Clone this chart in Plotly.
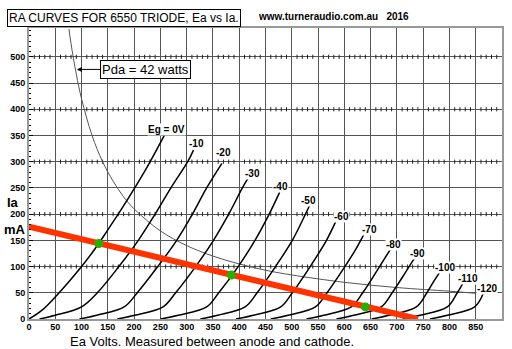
import plotly.graph_objects as go

# ---------------- data ----------------
# Triode anode curves (Ea volts, Ia mA) for each grid voltage
ea_g0 = [0, 25, 50, 75, 100, 125, 150, 175, 200, 225, 258]
ia_g0 = [0, 17, 42, 70, 100, 133, 170, 208, 248, 290, 351]
ea_g10 = [20, 50, 100, 130, 171, 208, 240, 270, 302, 313]
ia_g10 = [0, 7, 23, 50, 100, 150, 200, 250, 300, 322]
ea_g20 = [96, 129, 181, 206, 245, 281, 311, 338, 367]
ia_g20 = [0, 7, 23, 50, 100, 150, 200, 250, 297]
ea_g30 = [168, 201, 255, 279, 317, 351, 380, 406, 417]
ia_g30 = [0, 7, 23, 50, 100, 150, 200, 250, 269]
ea_g40 = [250, 284, 338, 361, 398, 430, 457, 477]
ia_g40 = [0, 7, 23, 50, 100, 150, 200, 242]
ea_g50 = [326, 359, 411, 434, 469, 501, 526, 534]
ia_g50 = [0, 7, 23, 50, 100, 150, 200, 217]
ea_g60 = [394, 427, 479, 501, 535, 566, 585]
ia_g60 = [0, 7, 23, 50, 100, 150, 189]
ea_g70 = [460, 493, 545, 567, 601, 620, 637]
ia_g70 = [0, 7, 23, 50, 100, 130, 161]
ea_g80 = [528, 561, 613, 635, 667, 687]
ia_g80 = [0, 7, 23, 50, 100, 132]
ea_g90 = [585, 618, 670, 691, 717, 734]
ia_g90 = [0, 7, 23, 50, 90, 117]
ea_g100 = [652, 685, 737, 757, 769, 782]
ia_g100 = [0, 7, 23, 50, 70, 90]
ea_g110 = [711, 744, 796, 815, 826]
ia_g110 = [0, 7, 23, 50, 69]
ea_g120 = [763, 796, 848, 864]
ia_g120 = [0, 7, 23, 48]

curve_labels = ["Eg = 0V", "-10", "-20", "-30", "-40", "-50", "-60",
                "-70", "-80", "-90", "-100", "-110", "-120"]
label_ea = [261, 318, 371, 425, 479, 532, 594, 648, 694, 739, 791, 836, 872]
label_ia = [362, 335, 317, 278, 252, 226, 196, 171, 143, 124, 98, 78, 59]

# Anode dissipation curve Pda = 42 W
pda_ea = [76, 80, 90, 100, 120, 140, 160, 180, 200, 250, 300, 350, 400,
          450, 500, 600, 700, 800, 850]
pda_ia = [553, 525, 467, 420, 350, 300, 263, 233, 210, 168, 140, 120, 105,
          93, 84, 70, 60, 53, 49]

# Load line and operating points
load_ea = [0, 740]
load_ia = [176, 0]
op_ea = [133, 385, 640]
op_ia = [144, 84, 23]

x_ticks = list(range(0, 851, 50))
y_ticks = list(range(0, 501, 50))

curves = [(ea_g0, ia_g0), (ea_g10, ia_g10), (ea_g20, ia_g20), (ea_g30, ia_g30),
          (ea_g40, ia_g40), (ea_g50, ia_g50), (ea_g60, ia_g60), (ea_g70, ia_g70),
          (ea_g80, ia_g80), (ea_g90, ia_g90), (ea_g100, ia_g100),
          (ea_g110, ia_g110), (ea_g120, ia_g120)]

FONT = "Liberation Sans, Arial, sans-serif"

fig = go.Figure()

# minor tick dots along the 100 mA grid lines (every 10 V)
dot_x, dot_y = [], []
for yy in range(100, 501, 100):
    for xx in range(10, 900, 10):
        if xx % 50:
            dot_x.append(xx)
            dot_y.append(yy)
fig.add_trace(go.Scatter(
    x=dot_x, y=dot_y, mode="markers", hoverinfo="skip", showlegend=False,
    marker=dict(symbol="line-ns", size=3, color="black",
                line=dict(width=1, color="#222"))))

# Pda curve
fig.add_trace(go.Scatter(
    x=pda_ea, y=pda_ia, mode="lines", hoverinfo="skip", showlegend=False,
    line=dict(color="#555", width=1, shape="spline")))

# anode curves
for ea, ia in curves:
    fig.add_trace(go.Scatter(
        x=ea, y=ia, mode="lines", hoverinfo="skip", showlegend=False,
        line=dict(color="black", width=1.5, shape="spline", smoothing=1)))

# load line
fig.add_trace(go.Scatter(
    x=load_ea, y=load_ia, mode="lines", hoverinfo="skip", showlegend=False,
    line=dict(color="#ff3300", width=6)))

# operating points
fig.add_trace(go.Scatter(
    x=op_ea, y=op_ia, mode="markers", hoverinfo="skip", showlegend=False,
    marker=dict(color="#2faa00", size=9, line=dict(width=0))))

annotations = []
for txt, xx, yy in zip(curve_labels, label_ea, label_ia):
    annotations.append(dict(
        x=xx, y=yy, xref="x", yref="y", text=txt, showarrow=False,
        font=dict(family=FONT, size=10, color="black", weight="bold"),
        xanchor="center", yanchor="middle", bgcolor="white", borderpad=0))

# Pda label with arrow
annotations.append(dict(
    x=91, y=476, xref="x", yref="y", text="Pda = 42 watts",
    showarrow=True, arrowhead=2, arrowsize=1, arrowwidth=1, arrowcolor="black",
    ax=69, ay=0, axref="pixel", ayref="pixel",
    font=dict(family=FONT, size=13, color="black"),
    bgcolor="white", bordercolor="black", borderwidth=1, borderpad=1))

# title box
annotations.append(dict(
    x=-0.0463, y=1.036, xref="paper", yref="paper",
    text="RA CURVES FOR 6550 TRIODE, Ea vs Ia.", showarrow=False,
    font=dict(family=FONT, size=12, color="black"),
    bgcolor="white", bordercolor="black", borderwidth=1, borderpad=1,
    xanchor="left", yanchor="middle"))

# website
annotations.append(dict(
    x=0.48, y=1.038, xref="paper", yref="paper",
    text="www.turneraudio.com.au&nbsp;&nbsp;&nbsp;2016", showarrow=False,
    font=dict(family=FONT, size=10, color="black", weight="bold"),
    xanchor="left", yanchor="middle"))

# axis titles
annotations.append(dict(
    x=0.386, y=-0.076, xref="paper", yref="paper",
    text="Ea Volts. Measured between anode and cathode.", showarrow=False,
    font=dict(family=FONT, size=13, color="black"),
    xanchor="center", yanchor="middle"))
annotations.append(dict(
    x=-0.034, y=0.399, xref="paper", yref="paper", text="Ia", showarrow=False,
    font=dict(family=FONT, size=13, color="black", weight="bold"),
    xanchor="center", yanchor="middle"))
annotations.append(dict(
    x=-0.03, y=0.309, xref="paper", yref="paper", text="mA", showarrow=False,
    font=dict(family=FONT, size=13, color="black", weight="bold"),
    xanchor="center", yanchor="middle"))

fig.update_layout(
    width=512, height=349,
    margin=dict(l=29, r=8, t=28, b=30),
    paper_bgcolor="white", plot_bgcolor="white",
    annotations=annotations,
    xaxis=dict(range=[0, 900], tickvals=x_ticks, ticktext=[str(v) for v in x_ticks],
               showgrid=True, gridcolor="#555", gridwidth=1,
               showline=True, mirror=True, linecolor="#999", linewidth=2,
               zeroline=False, ticks="", ticklabelstandoff=-2,
               tickfont=dict(family=FONT, size=9, color="black", weight="bold")),
    yaxis=dict(range=[0, 555], tickvals=y_ticks, ticktext=[str(v) for v in y_ticks],
               showgrid=True, gridcolor="#555", gridwidth=1,
               showline=True, mirror=True, linecolor="#999", linewidth=2,
               zeroline=False, ticks="inside", ticklen=4, tickcolor="black",
               minor=dict(ticks="inside", ticklen=2, dtick=10, tickcolor="black",
                          showgrid=False),
               tickfont=dict(family=FONT, size=9, color="black", weight="bold")),
)

fig.write_html("out.html", include_plotlyjs=True, config={"displayModeBar": False})
